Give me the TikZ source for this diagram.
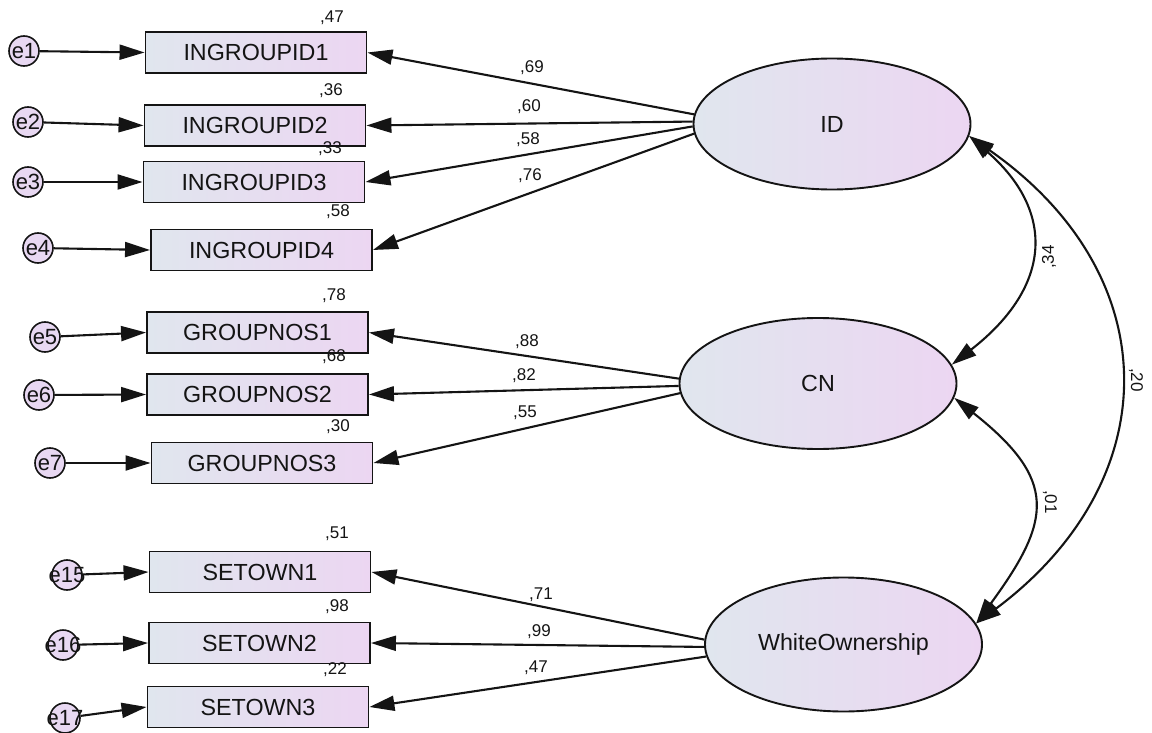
\documentclass[tikz,border=0pt]{standalone}
\usepackage{fontspec}
\setmainfont{Liberation Sans}
\usetikzlibrary{arrows.meta,shapes.geometric}
\definecolor{fillL}{RGB}{224,230,238}
\definecolor{fillR}{RGB}{236,214,242}
\definecolor{errfill}{RGB}{232,216,242}
\definecolor{ink}{RGB}{20,20,20}

\begin{document}
\begin{tikzpicture}[x=1pt,y=-1pt,
  headtip/.tip={Triangle[length=25pt,width=15pt]},
  link/.style={draw=ink, line width=2.1pt, -headtip},
  cov/.style={draw=ink, line width=2.1pt, headtip-headtip},
  obs/.style={draw=ink, line width=1.9pt, minimum width=221pt, minimum height=41pt,
    left color=fillL, right color=fillR, inner sep=0pt, text=ink,
    font=\fontsize{23.3}{26}\selectfont},
  lat/.style={draw=ink, ellipse, line width=1.9pt, minimum width=277pt, minimum height=131pt,
    left color=fillL, right color=fillR, inner sep=0pt, text=ink,
    font=\fontsize{23.3}{26}\selectfont},
  err/.style={draw=ink, circle, line width=1.6pt, fill=errfill, minimum size=30pt,
    inner sep=0pt, text=ink, font=\fontsize{22}{24}\selectfont},
  num/.style={inner sep=0pt, text=ink, font=\fontsize{17}{19}\selectfont}
]
\useasboundingbox (0,0) rectangle (1152,733);

% latent factors
\node[lat] (ID) at (832,124) {ID};
\node[lat] (CN) at (818,383.5) {CN};
\node[lat, minimum height=134pt] (WO) at (843.5,644.5) {WhiteOwnership};

% indicators
\node[obs] (b1) at (256,52.5) {INGROUPID1};
\node[obs] (b2) at (255,125.5) {INGROUPID2};
\node[obs] (b3) at (254,182) {INGROUPID3};
\node[obs] (b4) at (261.5,250) {INGROUPID4};
\node[obs] (g1) at (257.5,332.5) {GROUPNOS1};
\node[obs] (g2) at (257.5,394.5) {GROUPNOS2};
\node[obs] (g3) at (262,463) {GROUPNOS3};
\node[obs] (s1) at (260,572) {SETOWN1};
\node[obs] (s2) at (259.5,643) {SETOWN2};
\node[obs] (s3) at (258,707) {SETOWN3};

% error terms
\node[err] (e1) at (24,51) {\makebox[0pt]{e1}};
\node[err] (e2) at (28,122) {\makebox[0pt]{e2}};
\node[err] (e3) at (28,182) {\makebox[0pt]{e3}};
\node[err] (e4) at (38,248) {\makebox[0pt]{e4}};
\node[err] (e5) at (45,337) {\makebox[0pt]{e5}};
\node[err] (e6) at (39,395) {\makebox[0pt]{e6}};
\node[err] (e7) at (50,463) {\makebox[0pt]{e7}};
\node[err] (e15) at (67,575) {\makebox[0pt]{e15}};
\node[err] (e16) at (63,645) {\makebox[0pt]{e16}};
\node[err] (e17) at (65,718) {\makebox[0pt]{e17}};

% error paths
\foreach \e/\b in {e1/b1,e2/b2,e3/b3,e4/b4,e5/g1,e6/g2,e7/g3,e15/s1,e16/s2,e17/s3}
  \draw[link] (\e) -- (\b.west);

% loadings
\draw[link] (ID.176) -- (b1.east);
\draw[link] (ID.179) -- (b2.east);
\draw[link] (ID.181) -- (b3.east);
\draw[link] (ID.184) -- (b4.east);
\draw[link] (CN.178) -- (g1.east);
\draw[link] (CN.181) -- (g2.east);
\draw[link] (CN.184) -- (g3.east);
\draw[link] (WO.178) -- (s1.east);
\draw[link] (WO.181) -- (s2.east);
\draw[link] (WO.185) -- (s3.east);

% covariances
\draw[cov] (ID.355) .. controls (1054,210) and (1054,285) .. (CN.8);
\draw[cov] (CN.354) .. controls (1058,480) and (1052,520) .. (WO.9);
\draw[cov] (ID.355) .. controls (1168,275) and (1168,480) .. (WO.9);

% squared multiple correlations
\node[num] (r1) at (332,18) {,47};
\node[num] (r2) at (331,91) {,36};
\node[num] (r3) at (330,149) {,33};
\node[num] (r4) at (338,212) {,58};
\node[num] (r5) at (334,296) {,78};
\node[num] (r6) at (334,357) {,68};
\node[num] (r7) at (338,427) {,30};
\node[num] (r8) at (337,534) {,51};
\node[num] (r9) at (337,607) {,98};
\node[num] (r10) at (335,670) {,22};

% standardized loadings
\node[num] (w1) at (532,68) {,69};
\node[num] (w2) at (529,107) {,60};
\node[num] (w3) at (528,140) {,58};
\node[num] (w4) at (530,176) {,76};
\node[num] (w5) at (527,342) {,88};
\node[num] (w6) at (524,376) {,82};
\node[num] (w7) at (525,413) {,55};
\node[num] (w8) at (541,595) {,71};
\node[num] (w9) at (539,632) {,99};
\node[num] (w10) at (536,668) {,47};

% correlations
\node[num, rotate=90] (c1) at (1049,257) {,34};
\node[num, rotate=-90] (c2) at (1050,502) {,01};
\node[num, rotate=-90] (c3) at (1136,380) {,20};
\end{tikzpicture}
\end{document}
